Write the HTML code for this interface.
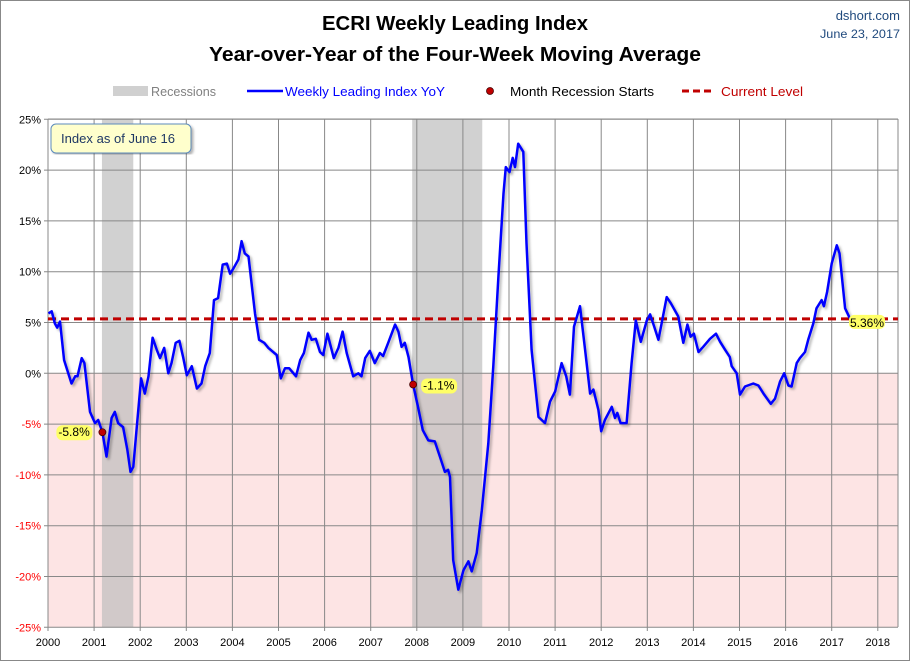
<!DOCTYPE html>
<html><head><meta charset="utf-8"><style>
body{margin:0;background:#fff;}
svg{display:block;font-family:"Liberation Sans",sans-serif;}
</style></head><body>
<svg id="chart" width="910" height="661" viewBox="0 0 910 661">
<defs><filter id="sh" x="-5%" y="-5%" width="110%" height="110%"><feDropShadow dx="2" dy="2" stdDeviation="1.2" flood-color="#000" flood-opacity="0.3"/></filter></defs>
<rect x="0.5" y="0.5" width="909" height="660" fill="#fff" stroke="#888"/>
<text x="455" y="30" text-anchor="middle" font-size="20" font-weight="bold" textLength="266" lengthAdjust="spacingAndGlyphs">ECRI Weekly Leading Index</text>
<text x="455" y="61" text-anchor="middle" font-size="20" font-weight="bold" textLength="492" lengthAdjust="spacingAndGlyphs">Year-over-Year of the Four-Week Moving Average</text>
<text x="900" y="20" text-anchor="end" font-size="13" fill="#1f497d">dshort.com</text>
<text x="900" y="38" text-anchor="end" font-size="12" fill="#1f497d" textLength="80" lengthAdjust="spacingAndGlyphs">June 23, 2017</text>
<g font-size="13">
<rect x="113" y="86" width="35" height="10" fill="#d0d0d0"/>
<text x="151" y="96" fill="#808080" textLength="65" lengthAdjust="spacingAndGlyphs">Recessions</text>
<line x1="247" y1="91" x2="283" y2="91" stroke="#0000ff" stroke-width="2.5"/>
<text x="285" y="96" fill="#0000ff" textLength="160" lengthAdjust="spacingAndGlyphs">Weekly Leading Index YoY</text>
<circle cx="490" cy="91" r="3.5" fill="#c00000" stroke="#400" stroke-width="0.8"/>
<text x="510" y="96" fill="#000" textLength="144" lengthAdjust="spacingAndGlyphs">Month Recession Starts</text>
<line x1="682" y1="91" x2="714" y2="91" stroke="#c00000" stroke-width="3" stroke-dasharray="7,4"/>
<text x="721" y="96" fill="#c00000" textLength="82" lengthAdjust="spacingAndGlyphs">Current Level</text>
</g>
<g id="plot"></g>
</svg>
<script>
const yearTicks=[2000,2001,2002,2003,2004,2005,2006,2007,2008,2009,2010,2011,2012,2013,2014,2015,2016,2017,2018];
const yTicks=[25,20,15,10,5,0,-5,-10,-15,-20,-25];
const recessions=[[2001.17,2001.85],[2007.9,2009.42]];
const recessionStarts=[[2001.18,-5.8],[2007.92,-1.1]];
const currentLevel=5.36;
const dates=[0.01,0.08,0.15,0.20,0.26,0.35,0.51,0.59,0.64,0.73,0.79,0.91,1.02,1.09,1.18,1.27,1.38,1.45,1.52,1.63,1.72,1.79,1.85,1.92,2.02,2.10,2.18,2.27,2.36,2.43,2.52,2.61,2.68,2.77,2.85,2.93,3.01,3.12,3.23,3.33,3.41,3.51,3.60,3.69,3.79,3.88,3.95,4.02,4.13,4.20,4.27,4.35,4.49,4.58,4.69,4.78,4.96,5.05,5.14,5.23,5.38,5.47,5.55,5.65,5.72,5.81,5.90,5.97,6.06,6.20,6.30,6.39,6.48,6.62,6.73,6.80,6.88,6.98,7.09,7.20,7.27,7.38,7.53,7.60,7.67,7.74,7.82,7.92,8.03,8.13,8.25,8.39,8.50,8.61,8.68,8.72,8.79,8.90,9.01,9.12,9.19,9.30,9.41,9.55,9.66,9.77,9.88,9.93,10.01,10.08,10.13,10.20,10.31,10.38,10.49,10.64,10.78,10.89,11.00,11.14,11.24,11.32,11.41,11.54,11.65,11.76,11.83,11.94,12.00,12.08,12.23,12.30,12.35,12.42,12.55,12.66,12.75,12.86,12.99,13.06,13.15,13.24,13.31,13.42,13.51,13.67,13.78,13.87,13.94,14.01,14.11,14.21,14.36,14.49,14.58,14.69,14.79,14.83,14.94,15.01,15.12,15.30,15.41,15.52,15.68,15.77,15.88,15.97,16.06,16.13,16.24,16.31,16.42,16.49,16.60,16.67,16.78,16.83,16.90,17.00,17.11,17.17,17.29,17.40];
const values=[5.9,6.1,4.9,4.5,5.1,1.3,-1.0,-0.3,-0.3,1.5,1.0,-3.8,-4.9,-4.6,-5.8,-8.2,-4.4,-3.8,-4.9,-5.3,-7.5,-9.7,-9.2,-5.6,-0.5,-2.0,-0.3,3.5,2.3,1.5,2.5,0,1.0,3.0,3.2,1.6,-0.2,0.7,-1.5,-1.0,0.7,2.0,7.2,7.4,10.7,10.8,9.8,10.3,11.2,13.0,11.8,11.5,5.9,3.3,3.0,2.5,1.8,-0.5,0.5,0.5,-0.3,1.3,2.0,4.0,3.3,3.4,2.1,1.8,3.9,1.5,2.5,4.1,2.0,-0.3,0,-0.3,1.5,2.2,1.0,2.0,1.7,3.0,4.8,4.1,2.6,3.0,1.6,-1.1,-3.4,-5.6,-6.6,-6.7,-8.2,-9.7,-9.5,-10.2,-18.4,-21.3,-19.4,-18.5,-19.5,-17.7,-13.5,-6.9,0.7,9.5,17.7,20.3,19.8,21.2,20.3,22.6,21.8,12.8,2.3,-4.3,-4.9,-2.8,-1.8,1.0,-0.3,-2.1,4.6,6.6,2.3,-2.0,-1.6,-3.6,-5.7,-4.6,-3.3,-4.4,-3.9,-4.9,-4.9,1.0,5.2,3.1,5.2,5.8,4.6,3.3,4.9,7.5,6.9,5.6,3.0,4.8,3.6,3.9,2.1,2.6,3.4,3.9,3.1,2.3,1.6,0.7,0,-2.1,-1.3,-1.0,-1.2,-2.0,-3.0,-2.5,-0.8,0,-1.2,-1.3,1.0,1.5,2.1,3.3,4.9,6.4,7.2,6.6,8.0,10.8,12.6,11.8,6.4,5.36];

const L=48,R=898,T=119,B=627;
const X=y=>L+(y-2000)*46.1;
const Y=v=>373.3-v*10.16;
const NS='http://www.w3.org/2000/svg';
const g=document.getElementById('plot');
function mk(tag,attrs,parent){const e=document.createElementNS(NS,tag);for(const k in attrs)e.setAttribute(k,attrs[k]);(parent||g).appendChild(e);return e;}

let e=mk('rect',{x:L,y:Y(0),width:R-L,height:B-Y(0),fill:'#fde4e4'});


recessions.forEach(r=>{const el=mk('rect',{x:X(r[0]),y:T,width:X(r[1])-X(r[0]),height:B-T,fill:'#bdbdbd',opacity:0.7});

});
yTicks.forEach(t=>{const el=mk('line',{x1:L-4,x2:R,y1:Y(t),y2:Y(t),stroke:'#888','stroke-width':1});


const tx=mk('text',{x:L-7,y:Y(t)+4,'text-anchor':'end','font-size':11,fill:t<0?'#ff0000':'#000'});tx.textContent=t+'%';

});
yearTicks.forEach(yr=>{const el=mk('line',{x1:X(yr),x2:X(yr),y1:T,y2:B+4,stroke:'#888','stroke-width':1});


const tx=mk('text',{x:X(yr),y:B+19,'text-anchor':'middle','font-size':11});tx.textContent=yr;

});
e=mk('line',{x1:L,x2:R,y1:T,y2:T,stroke:'#888'});


e=mk('line',{x1:R,x2:R,y1:T,y2:B,stroke:'#888'});


e=mk('line',{x1:L,x2:R,y1:Y(currentLevel),y2:Y(currentLevel),stroke:'#c00000','stroke-width':3,'stroke-dasharray':'8,5'});


const pts=dates.map((d,i)=>X(2000+d).toFixed(1)+','+Y(values[i]).toFixed(1)).join(' ');
e=mk('polyline',{points:pts,fill:'none',stroke:'#0000ff','stroke-width':2.5,'stroke-linejoin':'round',filter:'url(#sh)'});


recessionStarts.forEach((p,i)=>{const c=mk('circle',{cx:X(p[0]),cy:Y(p[1]),r:3.5,fill:'#c00000',stroke:'#400','stroke-width':0.8});


const lx=i==0?X(p[0])-44:X(p[0])+10, ly=i==0?Y(p[1])+4:Y(p[1])+5;
const bg=mk('rect',{x:lx-2,y:ly-11,width:36,height:15,rx:6,fill:'#ffff66'});


const t=mk('text',{x:lx,y:ly,'font-size':12});t.textContent=p[1]+'%';

});
e=mk('rect',{x:849,y:Y(currentLevel)-4,width:36,height:14,rx:5,fill:'#ffff66'});


e=mk('text',{x:850,y:Y(currentLevel)+8,'font-size':12});e.textContent=currentLevel+'%';


e=mk('rect',{x:51,y:124,width:140,height:29,rx:5,fill:'#ffffcc',stroke:'#5b8bbd','stroke-width':1,filter:'url(#sh)'});


e=mk('text',{x:61,y:143,'font-size':13,fill:'#1f3864',textLength:114,lengthAdjust:'spacingAndGlyphs'});e.textContent='Index as of June 16';


</script>
</body></html>
